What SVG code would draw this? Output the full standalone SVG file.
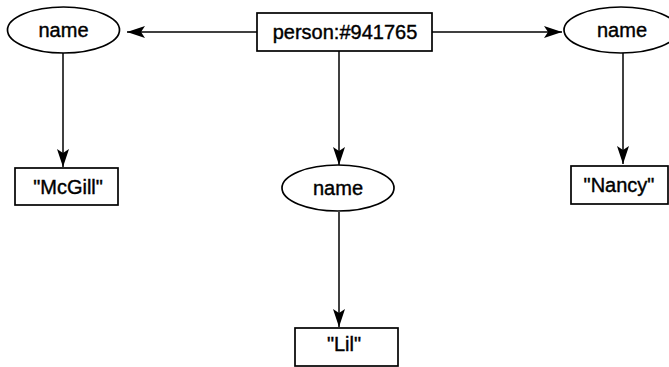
<svg xmlns="http://www.w3.org/2000/svg" width="669" height="367" viewBox="0 0 669 367">
<style>
.n{fill:#fff;stroke:#000;stroke-width:1.7}
.t{font-family:"Liberation Sans",Arial,sans-serif;font-size:20px;fill:#000;stroke:#000;stroke-width:0.4;text-anchor:middle}
.c{stroke:#000;stroke-width:1.5;fill:none;marker-end:url(#ah)}
</style>
<defs>
<marker id="ah" viewBox="0 0 18 12" refX="18" refY="6" markerWidth="18" markerHeight="12" markerUnits="userSpaceOnUse" orient="auto">
<path d="M0,0 L18,6 L0,12 L4,6 Z" fill="#000"/>
</marker>
</defs>
<g id="connectors">
<line class="c" x1="257" y1="32" x2="127" y2="32"/>
<line class="c" x1="432" y1="32" x2="562" y2="32"/>
<line class="c" x1="339" y1="51" x2="339" y2="165"/>
<line class="c" x1="63" y1="53" x2="63" y2="167"/>
<line class="c" x1="623" y1="53" x2="623" y2="164"/>
<line class="c" x1="339" y1="212" x2="339" y2="327"/>
</g>
<g id="person">
<rect class="n" x="257" y="13" width="175" height="38"/>
<text class="t" x="345" y="39">person:#941765</text>
</g>
<g id="name-left">
<ellipse class="n" cx="63.5" cy="30" rx="56" ry="23"/>
<text class="t" x="63.5" y="37">name</text>
</g>
<g id="name-right">
<ellipse class="n" cx="621" cy="30" rx="57" ry="23"/>
<text class="t" x="622" y="37">name</text>
</g>
<g id="name-middle">
<ellipse class="n" cx="338" cy="188" rx="56" ry="23"/>
<text class="t" x="338" y="195">name</text>
</g>
<g id="mcgill">
<rect class="n" x="15" y="168" width="103" height="37"/>
<text class="t" x="68" y="194">"McGill"</text>
</g>
<g id="nancy">
<rect class="n" x="571" y="166" width="97" height="38"/>
<text class="t" x="619" y="192">"Nancy"</text>
</g>
<g id="lil">
<rect class="n" x="295" y="328" width="103" height="38"/>
<text class="t" x="344" y="351">"Lil"</text>
</g>
</svg>
